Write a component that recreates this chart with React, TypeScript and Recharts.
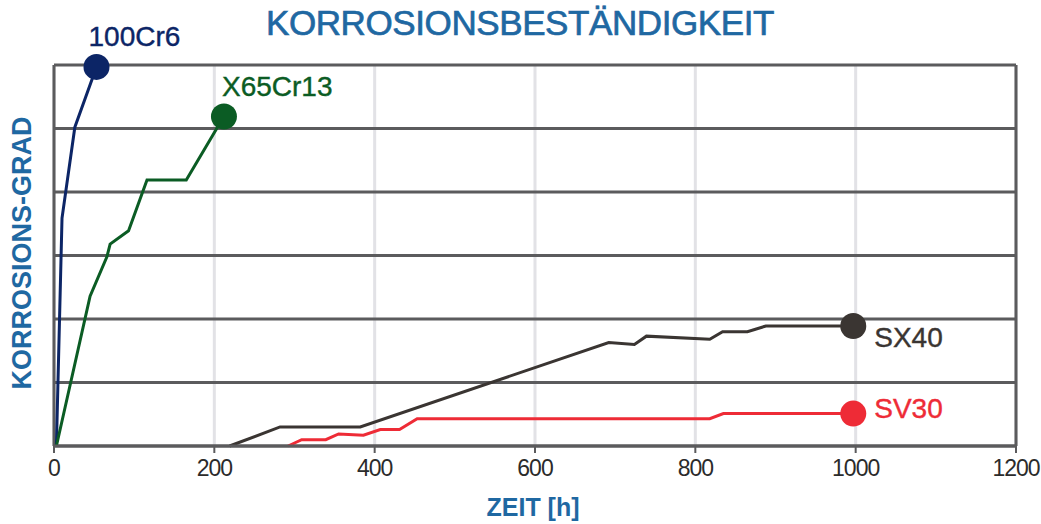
import React from 'react';
import {
  LineChart,
  Line,
  XAxis,
  YAxis,
  CartesianGrid,
  ReferenceLine,
} from 'recharts';

const xTicks = [0, 200, 400, 600, 800, 1000, 1200];
const yTicks = [0, 1, 2, 3, 4, 5, 6];

const cr6Hours = [3, 10, 26, 53];
const cr6Grade = [0, 3.59, 5.02, 5.97];

const x65Hours = [3, 45, 66, 70, 93, 116, 165, 203, 212];
const x65Grade = [0, 2.36, 2.98, 3.18, 3.39, 4.19, 4.19, 5.0, 5.19];

const sx40Hours = [219, 282, 382, 692, 724, 739, 818, 834, 865, 888, 997];
const sx40Grade = [0, 0.3, 0.3, 1.63, 1.6, 1.73, 1.68, 1.8, 1.8, 1.89, 1.89];

const sv30Hours = [292, 309, 339, 355, 386, 407, 431, 453, 818, 835, 997];
const sv30Grade = [0, 0.1, 0.1, 0.19, 0.17, 0.26, 0.26, 0.43, 0.43, 0.51, 0.51];

const toRows = (hours: number[], grade: number[]) =>
  hours.map((h, i) => ({ h, v: grade[i] }));

const series = [
  { name: '100Cr6', color: '#0c2566', data: toRows(cr6Hours, cr6Grade), dx: -8, dy: -21, width: 3 },
  { name: 'X65Cr13', color: '#0b5c24', data: toRows(x65Hours, x65Grade), dx: -2, dy: -20, width: 3 },
  { name: 'SX40', color: '#3a3532', data: toRows(sx40Hours, sx40Grade), dx: 21, dy: 21, width: 3 },
  { name: 'SV30', color: '#ee2b36', data: toRows(sv30Hours, sv30Grade), dx: 21, dy: 4, width: 3 },
];

const blue = '#1f68a2';
const axisGray = '#5b5b5d';
const font = "'Liberation Sans', Arial, sans-serif";

function endDot(color: string, name: string, last: number, dx: number, dy: number) {
  return (props: any) => {
    const { cx, cy, index } = props;
    if (index !== last) return <g key={`d${name}${index}`} />;
    return (
      <g key={`d${name}${index}`}>
        <circle cx={cx} cy={cy} r={13} fill={color} />
        <text
          x={cx + dx}
          y={cy + dy}
          fill={color}
          stroke={color}
          strokeWidth={0.4}
          fontSize={28}
          fontFamily={font}
        >
          {name}
        </text>
      </g>
    );
  };
}

export default function App() {
  return (
    <div style={{ position: 'absolute', left: 0, top: 0, width: 1041, height: 524, background: '#fff' }}>
      <div
        style={{
          position: 'absolute',
          left: 520,
          top: 5,
          transform: 'translateX(-50%)',
          whiteSpace: 'nowrap',
          color: blue,
          fontSize: 35,
          lineHeight: '35px',
          fontFamily: font,
          letterSpacing: -0.4,
          WebkitTextStroke: `0.7px ${blue}`,
        }}
      >
        KORROSIONSBESTÄNDIGKEIT
      </div>
      <div
        style={{
          position: 'absolute',
          left: 22,
          top: 253,
          transform: 'translate(-50%, -50%) rotate(-90deg)',
          whiteSpace: 'nowrap',
          color: blue,
          fontSize: 27,
          fontWeight: 'bold',
          fontFamily: font,
        }}
      >
        KORROSIONS-GRAD
      </div>
      <div
        style={{
          position: 'absolute',
          left: 533,
          top: 495,
          transform: 'translateX(-50%)',
          whiteSpace: 'nowrap',
          color: blue,
          fontSize: 25,
          lineHeight: '25px',
          fontWeight: 'bold',
          fontFamily: font,
        }}
      >
        ZEIT [h]
      </div>
      <LineChart width={1041} height={524} margin={{ top: 65, right: 25, bottom: 40, left: 54 }}>
        <CartesianGrid horizontal={false} stroke="#e2e2e6" strokeWidth={3} />
        <CartesianGrid vertical={false} stroke={axisGray} strokeWidth={3} />
        <XAxis
          type="number"
          dataKey="h"
          domain={[0, 1200]}
          ticks={xTicks}
          allowDuplicatedCategory={false}
          stroke={axisGray}
          strokeWidth={3}
          tickSize={7}
          tickMargin={7}
          tickLine={{ stroke: axisGray, strokeWidth: 2 }}
          tick={{ fill: '#2b2b2b', fontSize: 23, letterSpacing: -1, fontFamily: font }}
          height={38}
        />
        <YAxis type="number" domain={[0, 6]} ticks={yTicks} hide />
        <ReferenceLine x={0} stroke={axisGray} strokeWidth={3} />
        <ReferenceLine x={1200} stroke={axisGray} strokeWidth={3} />
        {series.map((s) => (
          <Line
            key={s.name}
            data={s.data}
            dataKey="v"
            type="linear"
            stroke={s.color}
            strokeWidth={s.width}
            dot={endDot(s.color, s.name, s.data.length - 1, s.dx, s.dy)}
            activeDot={false}
            isAnimationActive={false}
          />
        ))}
      </LineChart>
    </div>
  );
}
